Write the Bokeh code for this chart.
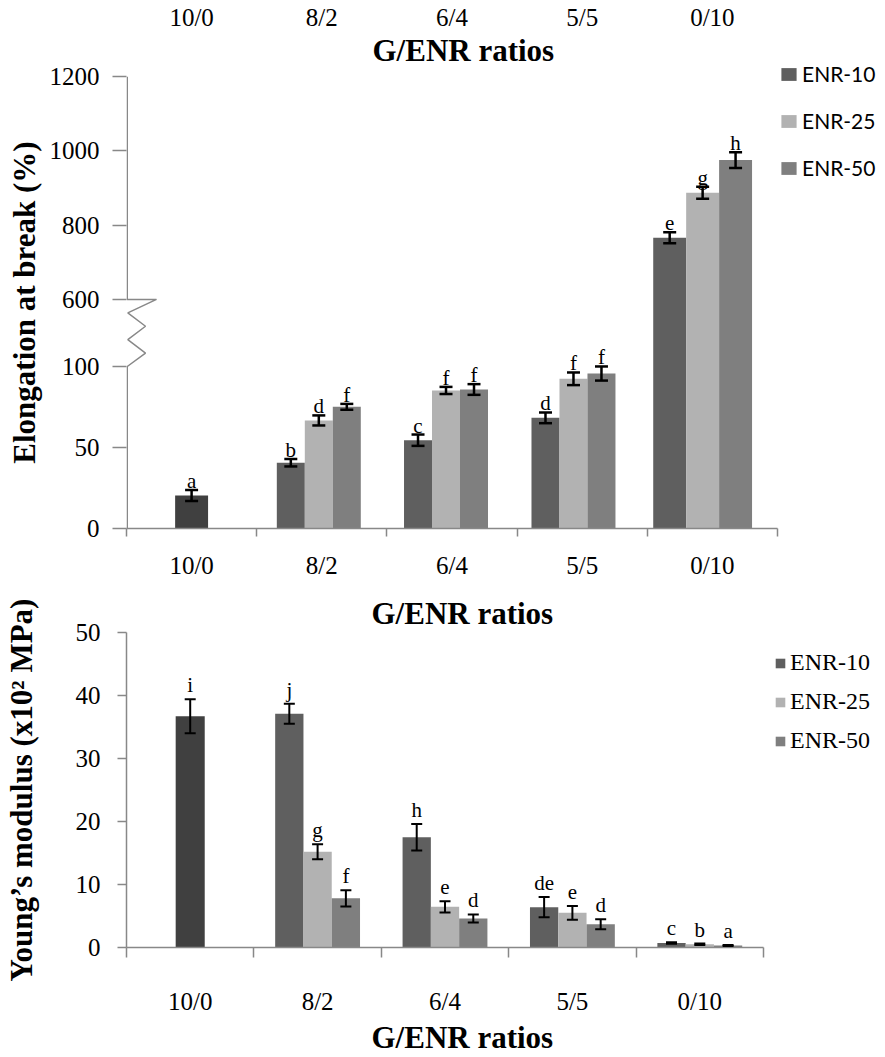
import math
from bokeh.plotting import figure
from bokeh.models import (Range1d, FixedTicker, LinearAxis, Title, Legend,
                          LegendItem, Whisker, TeeHead, ColumnDataSource)
from bokeh.layouts import column
from bokeh.embed import file_html
from bokeh.resources import INLINE
from bokeh.core.properties import value

NaN = float("nan")

# ---------------- data ----------------
categories = ["10/0", "8/2", "6/4", "5/5", "0/10"]
series_names = ["ENR-10", "ENR-25", "ENR-50"]

# Elongation at break (%)
elong_g = 20.4
elong_g_err = 3.4
elong_g_letter = "a"
elong_enr10 = [NaN, 40.6, 54.5, 68.3, 766.0]
elong_enr10_err = [NaN, 2.3, 3.5, 3.3, 15.0]
elong_enr10_letters = ["", "b", "c", "d", "e"]
elong_enr25 = [NaN, 66.7, 85.2, 92.4, 887.0]
elong_enr25_err = [NaN, 3.1, 2.2, 3.9, 16.0]
elong_enr25_letters = ["", "d", "f", "f", "g"]
elong_enr50 = [NaN, 75.1, 85.8, 95.7, 975.0]
elong_enr50_err = [NaN, 1.8, 3.3, 4.4, 21.0]
elong_enr50_letters = ["", "f", "f", "f", "h"]
elong_ticks = [0, 50, 100, 600, 800, 1000, 1200]

# Young's modulus (x10^2 MPa)
mod_g = 36.7
mod_g_err = 2.7
mod_g_letter = "i"
mod_enr10 = [NaN, 37.1, 17.5, 6.4, 0.7]
mod_enr10_err = [NaN, 1.6, 2.1, 1.6, 0.12]
mod_enr10_letters = ["", "j", "h", "de", "c"]
mod_enr25 = [NaN, 15.2, 6.45, 5.5, 0.5]
mod_enr25_err = [NaN, 1.2, 0.9, 1.1, 0.12]
mod_enr25_letters = ["", "g", "e", "e", "b"]
mod_enr50 = [NaN, 7.8, 4.6, 3.7, 0.3]
mod_enr50_err = [NaN, 1.3, 0.65, 0.8, 0.08]
mod_enr50_letters = ["", "f", "d", "d", "a"]
mod_ticks = [0, 10, 20, 30, 40, 50]

# ---------------- style ----------------
SERIES_COLORS = ["#5f5f5f", "#b2b2b2", "#7f7f7f"]
G_COLOR = "#404040"
AXIS_GRAY = "#888888"
SERIF = "Liberation Serif"

# broken axis mapping (lower part 0-100, upper part 600-1200)
BREAK_LOW, BREAK_HIGH = 100.0, 600.0
BREAK_GAP = 41.4
UPPER_K = 0.2293


def brk(v):
    if v <= BREAK_LOW:
        return v
    if v < BREAK_HIGH:
        return BREAK_LOW + (v - BREAK_LOW) / (BREAK_HIGH - BREAK_LOW) * BREAK_GAP
    return BREAK_LOW + BREAK_GAP + (v - BREAK_HIGH) * UPPER_K


centers = [i + 0.5 for i in range(len(categories))]
bounds = [float(i) for i in range(len(categories) + 1)]
cat_overrides = {c: cat for c, cat in zip(centers, categories)}


def base_figure(fw, fh, ymax, mbl, mbr, mbt, mbb):
    p = figure(frame_width=fw, frame_height=fh,
               x_range=Range1d(0, len(categories)), y_range=Range1d(0, ymax),
               output_backend="svg", toolbar_location=None,
               min_border_left=mbl, min_border_right=mbr,
               min_border_top=mbt, min_border_bottom=mbb)
    p.grid.visible = False
    p.outline_line_color = None
    return p


def style_xaxis(ax, tick_out, standoff, line=True):
    ax.ticker = FixedTicker(ticks=centers, minor_ticks=bounds)
    ax.major_label_overrides = cat_overrides
    ax.major_tick_out = 0
    ax.major_tick_in = 0
    ax.major_tick_line_color = None
    ax.minor_tick_out = tick_out
    ax.minor_tick_in = 0
    ax.minor_tick_line_color = AXIS_GRAY if line else None
    ax.minor_tick_line_width = 1.5
    ax.axis_line_color = AXIS_GRAY if line else None
    ax.axis_line_width = 1.5
    ax.major_label_text_font = SERIF
    ax.major_label_text_font_size = "25px"
    ax.major_label_text_color = "black"
    ax.major_label_standoff = standoff


def add_panel(p, tf, g_val, g_err, g_letter, vals, errs, letters,
              widths, shifts, letter_dy, head, lw, fontsize):
    # pure-G bar (10/0)
    gx = centers[0] + shifts[0]
    p.vbar(x=[gx], top=[tf(g_val)], bottom=0, width=widths[0],
           fill_color=G_COLOR, line_color=None)
    all_x, all_up, all_lo, all_txt = [gx], [tf(g_val + g_err)], [tf(g_val - g_err)], [g_letter]
    renderers = []
    for j, (sv, se, sl) in enumerate(zip(vals, errs, letters)):
        xs, tops, ws = [], [], []
        for i, v in enumerate(sv):
            if math.isnan(v):
                continue
            w = widths[i]
            x = centers[i] + shifts[i] + (j - 1) * w
            xs.append(x)
            tops.append(tf(v))
            ws.append(w)
            all_x.append(x)
            all_up.append(tf(v + se[i]))
            all_lo.append(tf(v - se[i]))
            all_txt.append(sl[i])
        r = p.vbar(x=xs, top=tops, bottom=0, width=ws,
                   fill_color=SERIES_COLORS[j], line_color=None)
        renderers.append(r)
    src = ColumnDataSource(dict(x=all_x, upper=all_up, lower=all_lo, txt=all_txt))
    wk = Whisker(source=src, base="x", upper="upper", lower="lower",
                 dimension="height", line_color="black", line_width=lw,
                 upper_head=TeeHead(size=head, line_color="black", line_width=lw),
                 lower_head=TeeHead(size=head, line_color="black", line_width=lw),
                 level="annotation")
    p.add_layout(wk)
    p.text(x="x", y="upper", text="txt", source=src, text_align="center",
           text_baseline="alphabetic", y_offset=-letter_dy,
           text_font=value(SERIF), text_font_size=fontsize, text_color="black")
    return renderers


# ================= top panel: elongation at break =================
FW1, FH1 = 651, 452
ymax1 = brk(1200)
p1 = base_figure(FW1, FH1, ymax1, 119, 100, 69, 56)

style_xaxis(p1.xaxis[0], 8, 15)

ya = p1.yaxis[0]
ya.ticker = FixedTicker(ticks=[brk(t) for t in elong_ticks])
ya.major_label_overrides = {brk(t): str(t) for t in elong_ticks}
ya.axis_line_color = None
ya.major_tick_out = 14
ya.major_tick_in = 0
ya.major_tick_line_color = AXIS_GRAY
ya.major_tick_line_width = 1.5
ya.major_label_standoff = 13
ya.major_label_text_font = SERIF
ya.major_label_text_font_size = "25px"
ya.major_label_text_color = "black"
ya.axis_label = "Elongation at break (%)"
ya.axis_label_text_font = SERIF
ya.axis_label_text_font_size = "31px"
ya.axis_label_text_font_style = "bold"
ya.axis_label_text_color = "black"
ya.axis_label_standoff = 5

# hand-drawn y axis line with a zig-zag break
pxx = len(categories) / FW1
zig_top = brk(BREAK_HIGH)
zig_ys = [zig_top - k * (zig_top - BREAK_LOW) / 5 for k in range(6)]
zig_xs = [30, 1.3, 19, 1.3, 19, 0.75]
axis_x = [0.75, 0.75] + zig_xs + [0.75]
axis_y = [ymax1, zig_top] + zig_ys + [0]
p1.line(x=[v * pxx for v in axis_x], y=axis_y, line_color=AXIS_GRAY, line_width=1.5)

top_widths = [0.253, 0.215, 0.215, 0.215, 0.253]
top_shifts = [0.0, -0.023, -0.046, -0.067, -0.075]
rend1 = add_panel(p1, brk, elong_g, elong_g_err, elong_g_letter,
                  [elong_enr10, elong_enr25, elong_enr50],
                  [elong_enr10_err, elong_enr25_err, elong_enr50_err],
                  [elong_enr10_letters, elong_enr25_letters, elong_enr50_letters],
                  top_widths, top_shifts, 9, 13, 2.5, "21px")

# title + category labels on top
p1.add_layout(Title(text="G/ENR ratios", align="left", offset=246,
                    text_font=SERIF, text_font_size="31px", text_font_style="bold",
                    text_color="black", standoff=17), "above")
ax_top = LinearAxis()
style_xaxis(ax_top, 0, -8, line=False)
p1.add_layout(ax_top, "above")

leg1 = Legend(items=[LegendItem(label=n, renderers=[r]) for n, r in zip(series_names, rend1)],
              location=(2, 348), orientation="vertical", glyph_width=19, glyph_height=16,
              label_height=20, spacing=22, padding=0, margin=0, label_standoff=4,
              label_text_font="Lato", label_text_font_size="21px", label_text_color="black",
              border_line_color=None, background_fill_alpha=0)
p1.add_layout(leg1, "right")

# ================= bottom panel: Young's modulus =================
FW2, FH2 = 637, 315
p2 = base_figure(FW2, FH2, 50, 122, 110, 48, 106)

style_xaxis(p2.xaxis[0], 10, 30)

yb = p2.yaxis[0]
yb.ticker = FixedTicker(ticks=mod_ticks)
yb.axis_line_color = AXIS_GRAY
yb.axis_line_width = 1.5
yb.major_tick_out = 9
yb.major_tick_in = 0
yb.major_tick_line_color = AXIS_GRAY
yb.major_tick_line_width = 1.5
yb.minor_tick_line_color = None
yb.major_label_standoff = 17
yb.major_label_text_font = SERIF
yb.major_label_text_font_size = "25px"
yb.major_label_text_color = "black"
yb.axis_label = "Young\u2019s modulus (x10\u00b2 MPa)"
yb.axis_label_text_font = SERIF
yb.axis_label_text_font_size = "31px"
yb.axis_label_text_font_style = "bold"
yb.axis_label_text_color = "black"
yb.axis_label_standoff = 34

bot_widths = [0.228, 0.222, 0.222, 0.222, 0.222]
bot_shifts = [0.0, 0.0, 0.0, 0.0, 0.0]
rend2 = add_panel(p2, lambda v: v, mod_g, mod_g_err, mod_g_letter,
                  [mod_enr10, mod_enr25, mod_enr50],
                  [mod_enr10_err, mod_enr25_err, mod_enr50_err],
                  [mod_enr10_letters, mod_enr25_letters, mod_enr50_letters],
                  bot_widths, bot_shifts, 14, 11, 2, "21px")

p2.add_layout(Title(text="G/ENR ratios", align="left", offset=245,
                    text_font=SERIF, text_font_size="31px", text_font_style="bold",
                    text_color="black", standoff=4), "above")
p2.add_layout(Title(text="G/ENR ratios", align="left", offset=245,
                    text_font=SERIF, text_font_size="31px", text_font_style="bold",
                    text_color="black", standoff=0), "below")

leg2 = Legend(items=[LegendItem(label=n, renderers=[r]) for n, r in zip(series_names, rend2)],
              location=(11, 193), orientation="vertical", glyph_width=12, glyph_height=12,
              label_height=24, spacing=12, padding=0, margin=0, label_standoff=4,
              label_text_font=SERIF, label_text_font_size="24px", label_text_color="black",
              border_line_color=None, background_fill_alpha=0)
p2.add_layout(leg2, "right")

layout = column(p1, p2, spacing=0)
open("out.html", "w").write(file_html(layout, INLINE))
